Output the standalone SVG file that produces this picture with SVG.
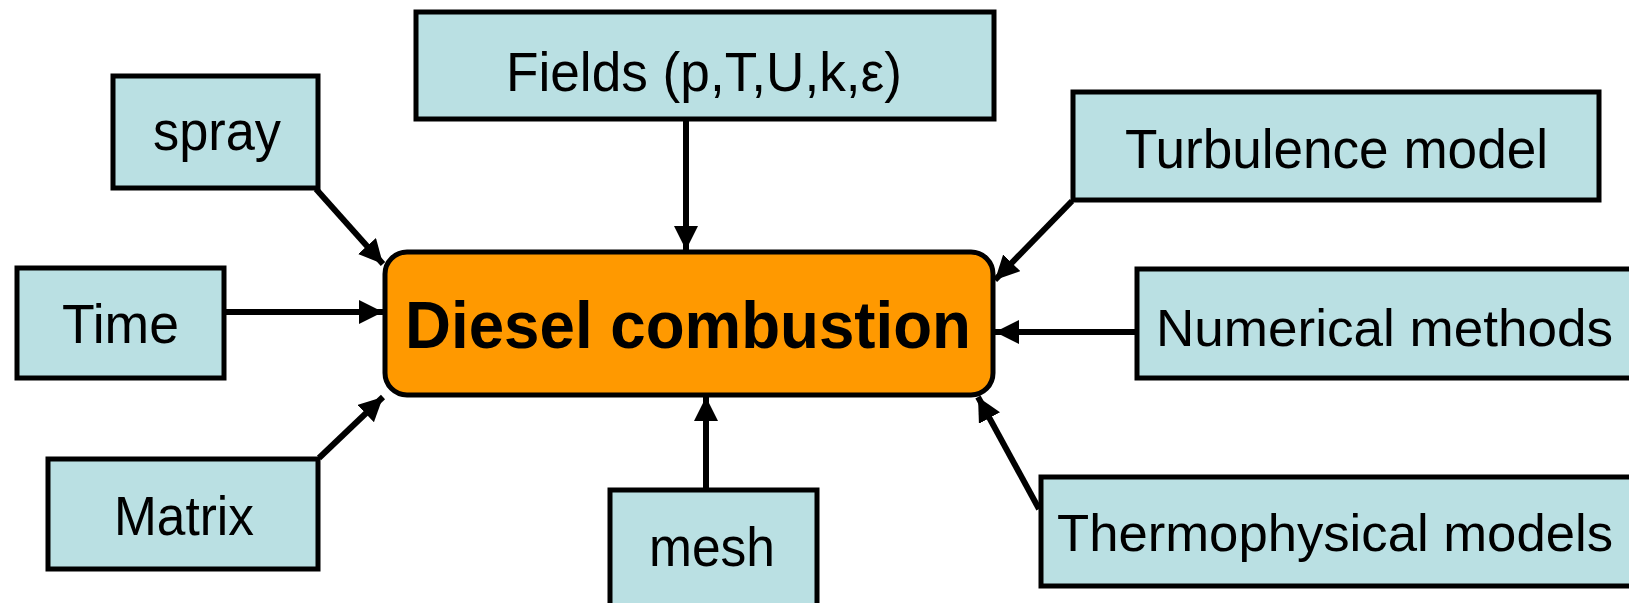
<svg xmlns="http://www.w3.org/2000/svg" width="1629" height="603" viewBox="0 0 1629 603">
<style>
.box{fill:#BAE0E3;stroke:#000;stroke-width:5}
.main{fill:#FF9900;stroke:#000;stroke-width:5}
.t{font-family:"Liberation Sans",Arial,sans-serif;font-size:56px;fill:#000}
.n{font-size:52.5px}
.b{font-family:"Liberation Sans",Arial,sans-serif;font-size:66px;font-weight:bold;fill:#000}
.c{stroke:#000;stroke-width:6;fill:none;marker-end:url(#ah)}
</style>
<defs>
<marker id="ah" markerUnits="userSpaceOnUse" markerWidth="26" markerHeight="24" refX="24" refY="12" orient="auto">
<path d="M0,0 L24,12 L0,24 z" fill="#000"/>
</marker>
</defs>
<rect width="1629" height="603" fill="#fff"/>
<g id="connectors">
<line class="c" x1="686" y1="120" x2="686" y2="250"/>
<line class="c" x1="316" y1="189" x2="383" y2="264"/>
<line class="c" x1="225" y1="312" x2="383" y2="312"/>
<line class="c" x1="319" y1="458" x2="383" y2="397"/>
<line class="c" x1="706" y1="488" x2="706" y2="397"/>
<line class="c" x1="1072" y1="201" x2="995" y2="280"/>
<line class="c" x1="1135" y1="332" x2="995" y2="332"/>
<line class="c" x1="1039" y1="509" x2="978" y2="397"/>
</g>
<g id="fields"><rect class="box" x="416" y="12" width="578" height="107"/><text class="t" x="506" y="91" textLength="396" lengthAdjust="spacingAndGlyphs">Fields (p,T,U,k,ε)</text></g>
<g id="spray"><rect class="box" x="113" y="76" width="205" height="112"/><text class="t" x="153" y="150" textLength="128" lengthAdjust="spacingAndGlyphs">spray</text></g>
<g id="turbulence"><rect class="box" x="1073" y="92" width="526" height="108"/><text class="t" x="1125" y="168" textLength="423" lengthAdjust="spacingAndGlyphs">Turbulence model</text></g>
<g id="time"><rect class="box" x="17" y="268" width="207" height="110"/><text class="t" x="62" y="343" textLength="117" lengthAdjust="spacingAndGlyphs">Time</text></g>
<g id="diesel"><rect class="main" x="385" y="252" width="608" height="143" rx="22"/><text class="b" x="405" y="348" textLength="566" lengthAdjust="spacingAndGlyphs">Diesel combustion</text></g>
<g id="numerical"><rect class="box" x="1137" y="269" width="495" height="109"/><text class="t n" x="1156" y="346" textLength="457" lengthAdjust="spacingAndGlyphs">Numerical methods</text></g>
<g id="matrix"><rect class="box" x="48" y="459" width="270" height="110"/><text class="t" x="114" y="535" textLength="140" lengthAdjust="spacingAndGlyphs">Matrix</text></g>
<g id="mesh"><rect class="box" x="610" y="490" width="207" height="120"/><text class="t" x="649" y="566" textLength="126" lengthAdjust="spacingAndGlyphs">mesh</text></g>
<g id="thermo"><rect class="box" x="1041" y="477" width="591" height="109"/><text class="t n" x="1057" y="551" textLength="556" lengthAdjust="spacingAndGlyphs">Thermophysical models</text></g>
</svg>
